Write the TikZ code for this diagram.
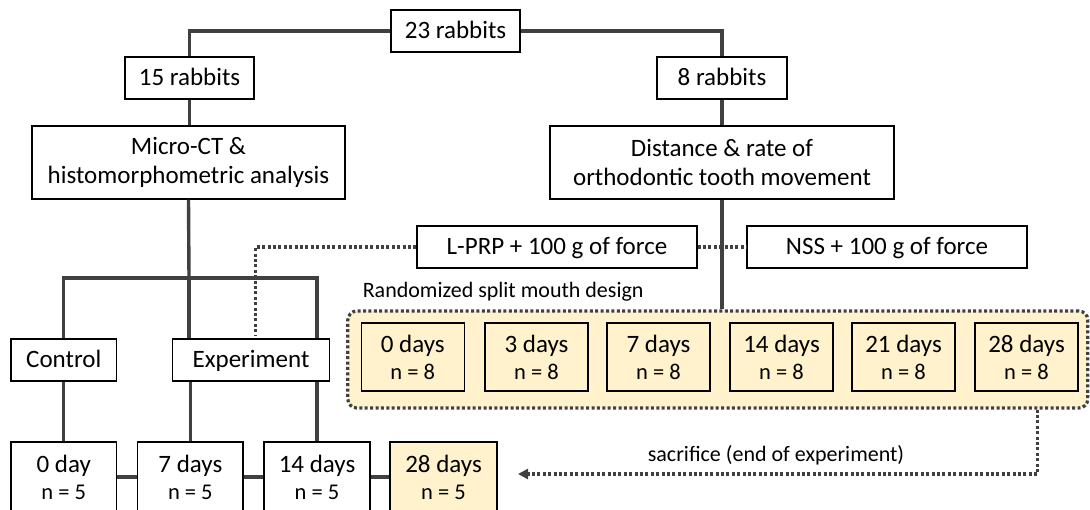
\documentclass[tikz,border=0pt]{standalone}
\usepackage{fontspec}
\setmainfont{Carlito}
\usetikzlibrary{arrows.meta}
\definecolor{beige}{HTML}{FFF2CC}
\definecolor{conn}{HTML}{404040}
\begin{document}
\begin{tikzpicture}[x=1pt,y=-1pt,
  box/.style={draw=black,line width=1.3pt,fill=white,inner sep=0pt,align=center,
              font=\fontsize{25}{29.5}\selectfont,minimum height=42pt},
  onebox/.style={box,text height=18.5pt,text depth=4pt},
  twobox/.style={box,minimum height=73pt},
  daybox/.style={box,font=\fontsize{25}{27}\selectfont,minimum height=70pt},
  inbox/.style={box,fill=beige,font=\fontsize{25}{27}\selectfont,minimum width=103pt,minimum height=68pt},
  nline/.style={},
  link/.style={draw=conn,line width=3.4pt},
  dots/.style={draw=conn,line width=3.2pt,dash pattern=on 3pt off 2.4pt},
  smalltext/.style={font=\fontsize{22}{26}\selectfont,inner sep=0pt},
]
\newcommand{\nn}[1]{{\fontsize{22.5}{27}\selectfont n = #1}}
\useasboundingbox (0,0) rectangle (1090,509);

% group (dotted rounded) box
\node[dots,fill=beige,rounded corners=9pt,minimum width=740pt,minimum height=97pt,inner sep=0pt]
  (grp) at (717.8,359.5) {};
\node[smalltext,anchor=west] (rsm) at (362.6,292) {Randomized split mouth design};

% nodes
\node[onebox,minimum width=129pt] (r23) at (455.5,31) {23 rabbits};
\node[onebox,minimum width=129pt] (r15) at (189.5,78) {15 rabbits};
\node[onebox,minimum width=130pt] (r8) at (722,78) {8 rabbits};
\node[twobox,minimum width=313pt] (micro) at (188.5,162.5) {Micro-CT \&\\histomorphometric analysis};
\node[twobox,minimum width=344pt] (dist) at (722,162.5) {Distance \& rate of\\orthodontic tooth movement};
\node[onebox,minimum width=280pt] (lprp) at (557,247) {L-PRP + 100 g of force};
\node[onebox,minimum width=280pt] (nss) at (887,247) {NSS + 100 g of force};
\node[onebox,minimum width=105.5pt] (ctrl) at (63.75,360) {Control};
\node[onebox,minimum width=157.6pt] (exper) at (251,360) {Experiment};

\node[daybox,minimum width=105.5pt] (b0) at (63.75,477) {0 day\\\nn{5}};
\node[daybox,minimum width=105.3pt] (b7) at (190.35,477) {7 days\\\nn{5}};
\node[daybox,minimum width=106pt] (b14) at (317,477) {14 days\\\nn{5}};
\node[daybox,fill=beige,minimum width=107pt] (b28) at (443.5,477) {28 days\\\nn{5}};

\node[inbox] (i0) at (412.75,357) {0 days\\\nn{8}};
\node[inbox] (i3) at (536.5,357) {3 days\\\nn{8}};
\node[inbox] (i7) at (658.5,357) {7 days\\\nn{8}};
\node[inbox] (i14) at (781.5,357) {14 days\\\nn{8}};
\node[inbox] (i21) at (903.5,357) {21 days\\\nn{8}};
\node[inbox] (i28) at (1026.5,357) {28 days\\\nn{8}};

% coordinates
\coordinate (jn) at (189,278);
\coordinate (c1) at (63.75,278);
\coordinate (c3) at (317,278);
\coordinate (dtop) at (255.5,336);
\coordinate (sdown) at (1037.5,474);
\coordinate (stip) at (518,474);

% solid connectors
\draw[link] (r23.west) -| (r15.north);
\draw[link] (r23.east) -| (r8.north);
\draw[link] (r15.south) -- (micro.north -| r15.south);
\draw[link] (r8.south) -- (dist.north);
\draw[link] (micro.south) -- (jn);
\draw[link,line cap=rect] (c1) -- (c3);
\draw[link] (c1) -- (ctrl.north);
\draw[link] (jn) -- (jn |- exper.north);
\draw[link] (c3) -- (c3 |- exper.north);
\draw[link] (ctrl.south) -- (b0.north);
\draw[link] (exper.south -| b7.north) -- (b7.north);
\draw[link] (exper.south -| b14.north) -- (b14.north);
\draw[link] (b0.east) -- (b7.west);
\draw[link] (b7.east) -- (b14.west);
\draw[link] (b14.east) -- (b28.west);
\draw[link] (dist.south) -- (dist.south |- grp.north);

% dotted connectors
\draw[dots] (lprp.west) -| (dtop);
\draw[dots] (lprp.east) -- (nss.west);
\draw[dots,-{Triangle[length=10pt,width=10pt]}] (sdown |- grp.south) -- (sdown) -- (stip);
\node[smalltext] (sac) at (776,455) {sacrifice (end of experiment)};
\end{tikzpicture}
\end{document}
